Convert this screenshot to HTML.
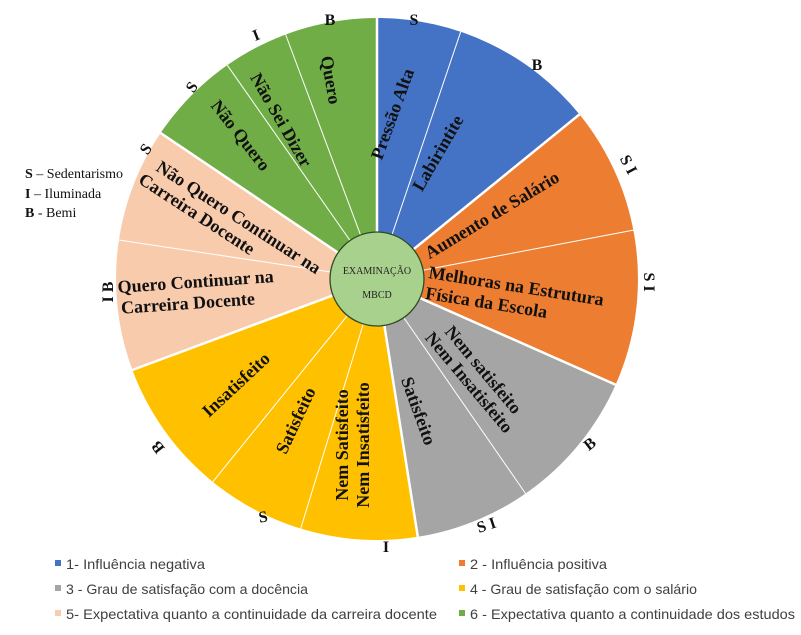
<!DOCTYPE html>
<html><head><meta charset="utf-8"><style>
html,body{margin:0;padding:0;background:#fff;}
svg{display:block;}
.t{font-family:"Liberation Serif",serif;font-weight:bold;font-size:18px;fill:#111;}
.o{font-family:"Liberation Serif",serif;font-weight:bold;font-size:16px;fill:#111;}
.k{font-family:"Liberation Serif",serif;font-size:14px;fill:#111;}
.l{font-family:"Liberation Sans",sans-serif;font-size:14px;fill:#404040;}
</style></head><body>
<svg width="801" height="635" viewBox="0 0 801 635" xmlns="http://www.w3.org/2000/svg">
<rect width="801" height="635" fill="#fff"/>
<g>
<path d="M377,279 L377,18 A261,261 0 0 1 579.5,114.4 Z" fill="#4472C4"/>
<path d="M377,279 L579.5,114.4 A261,261 0 0 1 615.6,384.7 Z" fill="#ED7D31"/>
<path d="M377,279 L615.6,384.7 A261,261 0 0 1 417.8,536.8 Z" fill="#A5A5A5"/>
<path d="M377,279 L417.8,536.8 A261,261 0 0 1 132.4,370 Z" fill="#FFC000"/>
<path d="M377,279 L132.4,370 A261,261 0 0 1 160.6,133 Z" fill="#F8CBAD"/>
<path d="M377,279 L160.6,133 A261,261 0 0 1 377,18 Z" fill="#70AD47"/>
</g>
<g stroke="#fff" stroke-width="1">
<line x1="377" y1="279" x2="460.7" y2="31.8"/>
<line x1="377" y1="279" x2="633.4" y2="230.1"/>
<line x1="377" y1="279" x2="525.6" y2="493.6"/>
<line x1="377" y1="279" x2="300.7" y2="528.6"/>
<line x1="377" y1="279" x2="212.8" y2="481.8"/>
<line x1="377" y1="279" x2="118.9" y2="240"/>
<line x1="377" y1="279" x2="227.3" y2="65.2"/>
<line x1="377" y1="279" x2="285.6" y2="34.5"/>
</g>
<g stroke="#fff" stroke-width="2.5">
<line x1="377" y1="279" x2="377" y2="18"/>
<line x1="377" y1="279" x2="579.5" y2="114.4"/>
<line x1="377" y1="279" x2="615.6" y2="384.7"/>
<line x1="377" y1="279" x2="417.8" y2="536.8"/>
<line x1="377" y1="279" x2="132.4" y2="370"/>
<line x1="377" y1="279" x2="160.6" y2="133"/>
</g>
<circle cx="377" cy="279" r="47" fill="#A9D18E" stroke="#2f4a22" stroke-width="1.3"/>
<text x="377" y="274" text-anchor="middle" font-family="Liberation Serif,serif" font-size="10" fill="#222">EXAMINAÇÃO</text>
<text x="377" y="298" text-anchor="middle" font-family="Liberation Serif,serif" font-size="10" fill="#222">MBCD</text>

<text class="t" text-anchor="middle" transform="translate(398,116) rotate(-70)">Pressão Alta</text>
<text class="t" text-anchor="middle" transform="translate(443,156) rotate(-60)">Labirintite</text>
<text class="t" text-anchor="middle" transform="translate(495,220) rotate(-31)">Aumento  de Salário</text>
<text class="t" transform="translate(428,278) rotate(9)" font-size="17"><tspan x="0" y="0">Melhoras na Estrutura</tspan><tspan x="0" y="21">Física da Escola</tspan></text>
<text class="t" transform="translate(444,332) rotate(50)"><tspan x="0" y="0">Nem satisfeito</tspan><tspan x="-8" y="19">Nem Insatisfeito</tspan></text>
<text class="t" text-anchor="middle" transform="translate(413,413) rotate(70)">Satisfeito</text>
<text class="t" text-anchor="middle" transform="translate(348,445) rotate(-90)"><tspan x="0" y="0">Nem Satisfeito</tspan><tspan x="0" y="21">Nem Insatisfeito</tspan></text>
<text class="t" text-anchor="middle" transform="translate(301,423) rotate(-65)">Satisfeito</text>
<text class="t" text-anchor="middle" transform="translate(240,389) rotate(-43)">Insatisfeito</text>
<text class="t" transform="translate(118,293) rotate(-4)"><tspan x="0" y="0">Quero Continuar na</tspan><tspan x="2" y="21">Carreira Docente</tspan></text>
<text class="t" transform="translate(155,170) rotate(33)"><tspan x="0" y="0">Não Quero Continuar na</tspan><tspan x="-8" y="20">Carreira Docente</tspan></text>
<text class="t" text-anchor="middle" transform="translate(236,139) rotate(52)">Não Quero</text>
<text class="t" text-anchor="middle" transform="translate(276,123) rotate(60)">Não Sei Dizer</text>
<text class="t" text-anchor="middle" transform="translate(325,81) rotate(80)">Quero</text>

<text class="o" text-anchor="middle" x="330" y="25">B</text>
<text class="o" text-anchor="middle" x="414" y="25">S</text>
<text class="o" text-anchor="middle" transform="translate(258,40) rotate(-22)">I</text>
<text class="o" text-anchor="middle" transform="translate(196,90) rotate(-55)">S</text>
<text class="o" text-anchor="middle" transform="translate(150,152) rotate(-55)">S</text>
<text class="o" text-anchor="middle" x="537" y="70">B</text>
<text class="o" text-anchor="middle" transform="translate(624,167) rotate(62)">S I</text>
<text class="o" text-anchor="middle" transform="translate(644,282) rotate(90)">S I</text>
<text class="o" text-anchor="middle" transform="translate(113,292) rotate(-90)">I B</text>
<text class="o" text-anchor="middle" transform="translate(162,444) rotate(-128)">B</text>
<text class="o" text-anchor="middle" transform="translate(264,522) rotate(-10)">S</text>
<text class="o" text-anchor="middle" x="386" y="552">I</text>
<text class="o" text-anchor="middle" transform="translate(488,530) rotate(-18)">S I</text>
<text class="o" text-anchor="middle" transform="translate(593,448) rotate(-38)">B</text>

<text class="k" x="25" y="178"><tspan font-weight="bold">S</tspan> – Sedentarismo</text>
<text class="k" x="25" y="198"><tspan font-weight="bold">I</tspan> – Iluminada</text>
<text class="k" x="25" y="217"><tspan font-weight="bold">B</tspan> - Bemi</text>

<rect x="55" y="560" width="6" height="6" fill="#4472C4"/>
<text class="l" x="66" y="569" textLength="139" lengthAdjust="spacingAndGlyphs">1- Influência negativa</text>
<rect x="459" y="560" width="6" height="6" fill="#ED7D31"/>
<text class="l" x="470" y="569" textLength="137" lengthAdjust="spacingAndGlyphs">2 - Influência positiva</text>
<rect x="55" y="585" width="6" height="6" fill="#A5A5A5"/>
<text class="l" x="66" y="594" textLength="242" lengthAdjust="spacingAndGlyphs">3 - Grau de satisfação com a docência</text>
<rect x="459" y="585" width="6" height="6" fill="#FFC000"/>
<text class="l" x="470" y="594" textLength="227" lengthAdjust="spacingAndGlyphs">4 - Grau de satisfação com o salário</text>
<rect x="55" y="610" width="6" height="6" fill="#F8CBAD"/>
<text class="l" x="66" y="619" textLength="371" lengthAdjust="spacingAndGlyphs">5- Expectativa quanto a continuidade da carreira docente</text>
<rect x="459" y="610" width="6" height="6" fill="#70AD47"/>
<text class="l" x="470" y="619" textLength="325" lengthAdjust="spacingAndGlyphs">6 - Expectativa quanto a continuidade dos estudos</text>
</svg>
</body></html>
